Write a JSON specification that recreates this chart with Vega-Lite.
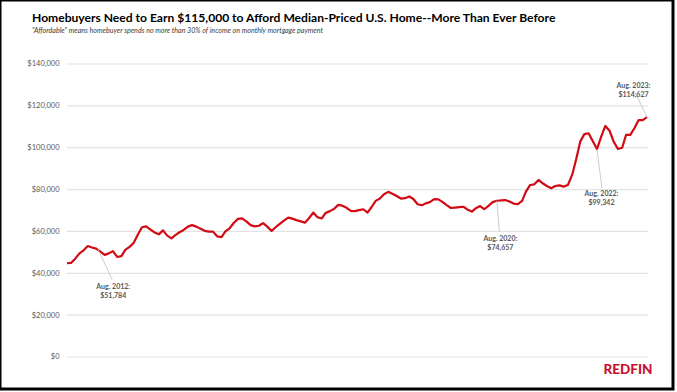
{
  "$schema": "https://vega.github.io/schema/vega-lite/v6.json",
  "width": 673,
  "height": 389,
  "autosize": {"type": "none"},
  "padding": {"left": 0, "top": 0, "right": 4, "bottom": 3},
  "background": "white",
  "config": {"view": {"stroke": "#000000", "strokeWidth": 3}, "font": "Lato"},
  "title": {
    "text": "Homebuyers Need to Earn $115,000 to Afford Median-Priced U.S. Home--More Than Ever Before",
    "subtitle": "\"Affordable\" means homebuyer spends no more than 30% of income on monthly mortgage payment",
    "anchor": "start", "frame": "group", "orient": "top", "offset": -34, "dx": 32,
    "font": "Lato", "fontSize": 12.1, "fontWeight": "bold", "color": "#000000",
    "subtitleFont": "Lato", "subtitleFontSize": 7.1, "subtitleFontStyle": "italic", "subtitleColor": "#404040", "subtitlePadding": 3
  },
  "datasets": {
    "series": [
      {"date": "2012-01-01", "income": 44800}, {"date": "2012-02-01", "income": 45000}, {"date": "2012-03-01", "income": 47000}, {"date": "2012-04-01", "income": 49500}, {"date": "2012-05-01", "income": 51000}, {"date": "2012-06-01", "income": 53000}, {"date": "2012-07-01", "income": 52300}, {"date": "2012-08-01", "income": 51784}, {"date": "2012-09-01", "income": 50300}, {"date": "2012-10-01", "income": 48800}, {"date": "2012-11-01", "income": 49500}, {"date": "2012-12-01", "income": 50600},
      {"date": "2013-01-01", "income": 47800}, {"date": "2013-02-01", "income": 48200}, {"date": "2013-03-01", "income": 51200}, {"date": "2013-04-01", "income": 52600}, {"date": "2013-05-01", "income": 54500}, {"date": "2013-06-01", "income": 58500}, {"date": "2013-07-01", "income": 62000}, {"date": "2013-08-01", "income": 62400}, {"date": "2013-09-01", "income": 60900}, {"date": "2013-10-01", "income": 59500}, {"date": "2013-11-01", "income": 58600}, {"date": "2013-12-01", "income": 60500},
      {"date": "2014-01-01", "income": 58000}, {"date": "2014-02-01", "income": 56700}, {"date": "2014-03-01", "income": 58200}, {"date": "2014-04-01", "income": 59600}, {"date": "2014-05-01", "income": 60700}, {"date": "2014-06-01", "income": 62300}, {"date": "2014-07-01", "income": 63000}, {"date": "2014-08-01", "income": 62300}, {"date": "2014-09-01", "income": 61300}, {"date": "2014-10-01", "income": 60300}, {"date": "2014-11-01", "income": 59900}, {"date": "2014-12-01", "income": 59900},
      {"date": "2015-01-01", "income": 57600}, {"date": "2015-02-01", "income": 57300}, {"date": "2015-03-01", "income": 60000}, {"date": "2015-04-01", "income": 61500}, {"date": "2015-05-01", "income": 64000}, {"date": "2015-06-01", "income": 66000}, {"date": "2015-07-01", "income": 66200}, {"date": "2015-08-01", "income": 64800}, {"date": "2015-09-01", "income": 63000}, {"date": "2015-10-01", "income": 62400}, {"date": "2015-11-01", "income": 62700}, {"date": "2015-12-01", "income": 64000},
      {"date": "2016-01-01", "income": 62300}, {"date": "2016-02-01", "income": 60200}, {"date": "2016-03-01", "income": 62000}, {"date": "2016-04-01", "income": 63600}, {"date": "2016-05-01", "income": 65200}, {"date": "2016-06-01", "income": 66600}, {"date": "2016-07-01", "income": 66100}, {"date": "2016-08-01", "income": 65400}, {"date": "2016-09-01", "income": 64800}, {"date": "2016-10-01", "income": 64200}, {"date": "2016-11-01", "income": 66400}, {"date": "2016-12-01", "income": 69000},
      {"date": "2017-01-01", "income": 66800}, {"date": "2017-02-01", "income": 66200}, {"date": "2017-03-01", "income": 68800}, {"date": "2017-04-01", "income": 69700}, {"date": "2017-05-01", "income": 70700}, {"date": "2017-06-01", "income": 72700}, {"date": "2017-07-01", "income": 72300}, {"date": "2017-08-01", "income": 71300}, {"date": "2017-09-01", "income": 69800}, {"date": "2017-10-01", "income": 69700}, {"date": "2017-11-01", "income": 70200}, {"date": "2017-12-01", "income": 70600},
      {"date": "2018-01-01", "income": 69000}, {"date": "2018-02-01", "income": 71800}, {"date": "2018-03-01", "income": 74600}, {"date": "2018-04-01", "income": 75700}, {"date": "2018-05-01", "income": 77800}, {"date": "2018-06-01", "income": 78900}, {"date": "2018-07-01", "income": 78000}, {"date": "2018-08-01", "income": 76900}, {"date": "2018-09-01", "income": 75700}, {"date": "2018-10-01", "income": 75900}, {"date": "2018-11-01", "income": 76700}, {"date": "2018-12-01", "income": 75500},
      {"date": "2019-01-01", "income": 73000}, {"date": "2019-02-01", "income": 72500}, {"date": "2019-03-01", "income": 73400}, {"date": "2019-04-01", "income": 74000}, {"date": "2019-05-01", "income": 75400}, {"date": "2019-06-01", "income": 75300}, {"date": "2019-07-01", "income": 74100}, {"date": "2019-08-01", "income": 72600}, {"date": "2019-09-01", "income": 71200}, {"date": "2019-10-01", "income": 71400}, {"date": "2019-11-01", "income": 71600}, {"date": "2019-12-01", "income": 71800},
      {"date": "2020-01-01", "income": 70400}, {"date": "2020-02-01", "income": 69500}, {"date": "2020-03-01", "income": 71100}, {"date": "2020-04-01", "income": 72100}, {"date": "2020-05-01", "income": 70600}, {"date": "2020-06-01", "income": 72200}, {"date": "2020-07-01", "income": 74000}, {"date": "2020-08-01", "income": 74657}, {"date": "2020-09-01", "income": 74800}, {"date": "2020-10-01", "income": 75000}, {"date": "2020-11-01", "income": 74300}, {"date": "2020-12-01", "income": 73300},
      {"date": "2021-01-01", "income": 73000}, {"date": "2021-02-01", "income": 74600}, {"date": "2021-03-01", "income": 79000}, {"date": "2021-04-01", "income": 82200}, {"date": "2021-05-01", "income": 82500}, {"date": "2021-06-01", "income": 84600}, {"date": "2021-07-01", "income": 83000}, {"date": "2021-08-01", "income": 81700}, {"date": "2021-09-01", "income": 80600}, {"date": "2021-10-01", "income": 81700}, {"date": "2021-11-01", "income": 82000}, {"date": "2021-12-01", "income": 81400},
      {"date": "2022-01-01", "income": 82200}, {"date": "2022-02-01", "income": 87000}, {"date": "2022-03-01", "income": 94100}, {"date": "2022-04-01", "income": 102900}, {"date": "2022-05-01", "income": 106500}, {"date": "2022-06-01", "income": 106900}, {"date": "2022-07-01", "income": 103200}, {"date": "2022-08-01", "income": 99342}, {"date": "2022-09-01", "income": 105300}, {"date": "2022-10-01", "income": 110400}, {"date": "2022-11-01", "income": 108100}, {"date": "2022-12-01", "income": 102900},
      {"date": "2023-01-01", "income": 99400}, {"date": "2023-02-01", "income": 100000}, {"date": "2023-03-01", "income": 106100}, {"date": "2023-04-01", "income": 106100}, {"date": "2023-05-01", "income": 109300}, {"date": "2023-06-01", "income": 113200}, {"date": "2023-07-01", "income": 113200}, {"date": "2023-08-01", "income": 114627}
    ],
    "notes": [
      {"key": "a", "date": "2012-08-01", "income": 51784, "label": "Aug. 2012:\n$51,784"},
      {"key": "b", "date": "2020-08-01", "income": 74657, "label": "Aug. 2020:\n$74,657"},
      {"key": "c", "date": "2022-08-01", "income": 99342, "label": "Aug. 2022:\n$99,342"},
      {"key": "d", "date": "2023-08-01", "income": 114627, "label": "Aug. 2023:\n$114,627"}
    ],
    "grid": [{"v": 0}, {"v": 20000}, {"v": 40000}, {"v": 60000}, {"v": 80000}, {"v": 100000}, {"v": 120000}, {"v": 140000}]
  },
  "layer": [
    {
      "data": {"name": "grid"},
      "mark": {"type": "rule", "color": "#e3e3e3", "strokeWidth": 1.2},
      "encoding": {
        "x": {"datum": {"year": 2012, "month": 1, "date": 1}, "type": "temporal",
              "scale": {"domain": [{"year": 2010, "month": 8, "date": 30, "hours": 10}, {"year": 2024, "month": 2, "date": 6, "hours": 14}]},
              "axis": {"title": "REDFIN", "labels": false, "ticks": false, "domain": false, "grid": false,
                       "titleFont": "Lato", "titleFontSize": 13.5, "titleFontWeight": 900, "titleColor": "#c8102e",
                       "titleAlign": "right", "titleAnchor": null, "titleX": 652, "titleY": -16, "titleBaseline": "alphabetic"}},
        "x2": {"datum": {"year": 2023, "month": 8, "date": 8}},
        "y": {"field": "v", "type": "quantitative",
              "scale": {"domain": [-15290, 170577], "nice": false, "zero": false},
              "axis": {"title": null, "grid": false, "domain": false, "ticks": false, "offset": -63, "labelPadding": 4,
                       "values": [0, 20000, 40000, 60000, 80000, 100000, 120000, 140000], "format": "$,.0f",
                       "labelFont": "Lato", "labelFontSize": 7.5, "labelColor": "#595959"}}
      }
    },
    {
      "data": {"name": "series"},
      "mark": {"type": "line", "color": "#d20a14", "strokeWidth": 2.2, "strokeJoin": "round"},
      "encoding": {
        "x": {"field": "date", "type": "temporal"},
        "y": {"field": "income", "type": "quantitative"}
      }
    },
    {
      "data": {"name": "notes"},
      "transform": [{"filter": "datum.key == 'a'"}],
      "layer": [
        {"mark": {"type": "rule", "color": "#bfbfbf", "strokeWidth": 0.8, "xOffset": 1.5, "x2Offset": 16, "y2Offset": 31},
         "encoding": {"x": {"field": "date", "type": "temporal"}, "y": {"field": "income", "type": "quantitative"}, "x2": {"field": "date"}, "y2": {"field": "income"}}},
        {"mark": {"type": "text", "dx": 17, "dy": 34, "align": "center", "baseline": "top", "lineBreak": "\n", "lineHeight": 9, "fontSize": 7, "fontWeight": "bold", "color": "#595959", "font": "Lato"},
         "encoding": {"x": {"field": "date", "type": "temporal"}, "y": {"field": "income", "type": "quantitative"}, "text": {"field": "label"}}}
      ]
    },
    {
      "data": {"name": "notes"},
      "transform": [{"filter": "datum.key == 'b'"}],
      "layer": [
        {"mark": {"type": "rule", "color": "#bfbfbf", "strokeWidth": 0.8, "x2Offset": 2.5, "y2Offset": 31},
         "encoding": {"x": {"field": "date", "type": "temporal"}, "y": {"field": "income", "type": "quantitative"}, "x2": {"field": "date"}, "y2": {"field": "income"}}},
        {"mark": {"type": "text", "dx": 3.5, "dy": 34.5, "align": "center", "baseline": "top", "lineBreak": "\n", "lineHeight": 9, "fontSize": 7, "fontWeight": "bold", "color": "#595959", "font": "Lato"},
         "encoding": {"x": {"field": "date", "type": "temporal"}, "y": {"field": "income", "type": "quantitative"}, "text": {"field": "label"}}}
      ]
    },
    {
      "data": {"name": "notes"},
      "transform": [{"filter": "datum.key == 'c'"}],
      "layer": [
        {"mark": {"type": "rule", "color": "#bfbfbf", "strokeWidth": 0.8, "x2Offset": 5, "y2Offset": 39},
         "encoding": {"x": {"field": "date", "type": "temporal"}, "y": {"field": "income", "type": "quantitative"}, "x2": {"field": "date"}, "y2": {"field": "income"}}},
        {"mark": {"type": "text", "dx": 4.5, "dy": 40.5, "align": "center", "baseline": "top", "lineBreak": "\n", "lineHeight": 9, "fontSize": 7, "fontWeight": "bold", "color": "#595959", "font": "Lato"},
         "encoding": {"x": {"field": "date", "type": "temporal"}, "y": {"field": "income", "type": "quantitative"}, "text": {"field": "label"}}}
      ]
    },
    {
      "data": {"name": "notes"},
      "transform": [{"filter": "datum.key == 'd'"}],
      "layer": [
        {"mark": {"type": "rule", "color": "#bfbfbf", "strokeWidth": 0.8, "x2Offset": -12, "y2Offset": -25},
         "encoding": {"x": {"field": "date", "type": "temporal"}, "y": {"field": "income", "type": "quantitative"}, "x2": {"field": "date"}, "y2": {"field": "income"}}},
        {"mark": {"type": "text", "dx": -13.5, "dy": -28.5, "align": "center", "baseline": "bottom", "lineBreak": "\n", "lineHeight": 9, "fontSize": 7, "fontWeight": "bold", "color": "#595959", "font": "Lato"},
         "encoding": {"x": {"field": "date", "type": "temporal"}, "y": {"field": "income", "type": "quantitative"}, "text": {"field": "label"}}}
      ]
    }
  ]
}
